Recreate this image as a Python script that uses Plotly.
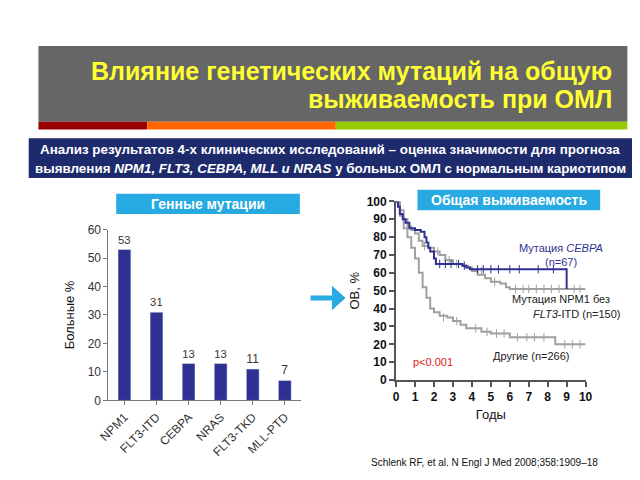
import plotly.graph_objects as go

# Bar chart data
genes = ["NPM1", "FLT3-ITD", "CEBPA", "NRAS", "FLT3-TKD", "MLL-PTD"]
patients_pct = [53, 31, 13, 13, 11, 7]

# Kaplan-Meier curves (years, OS %)
cebpa_t = [0, 0.1, 0.2, 0.35, 0.5, 0.7, 1.0, 1.3, 1.5, 1.6, 1.7, 1.8, 2.0, 2.1, 3.5, 3.7, 3.9, 9.0, 9.0]
cebpa_os = [100, 97, 93, 90, 88, 85, 84, 83, 80, 77, 74, 72, 68, 65, 64, 63, 62, 62, 51]
cebpa_cens_t = [2.3, 2.6, 2.9, 3.3, 3.6, 4.3, 4.6, 5.0, 5.4, 6.0, 6.5, 7.5, 8.3]
cebpa_cens_os = [65, 65, 65, 65, 64, 62, 62, 62, 62, 62, 62, 62, 62]

npm1_t = [0, 0.2, 0.4, 0.6, 0.8, 1.0, 1.2, 1.4, 1.7, 2.0, 2.3, 2.6, 3.0, 3.5, 3.8, 4.0, 4.3, 4.7, 5.0, 5.5, 5.8, 6.0, 10]
npm1_os = [100, 95, 90, 86, 84, 82, 78, 75, 74, 72, 70, 67, 65, 64, 63, 61, 59, 57, 55, 54, 52, 51, 51]
npm1_cens_t = [1.5, 2.2, 2.8, 3.2, 4.5, 5.2, 6.3, 6.7, 7.0, 7.4, 7.8, 8.2, 8.6, 9.4, 9.7]
npm1_cens_os = [75, 72, 67, 65, 61, 55, 51, 51, 51, 51, 51, 51, 51, 51, 51]

other_t = [0, 0.2, 0.4, 0.6, 0.8, 1.0, 1.2, 1.4, 1.6, 1.8, 2.0, 2.3, 2.7, 3.0, 3.4, 3.7, 4.5, 5.0, 6.0, 8.4, 8.4, 10]
other_os = [100, 92, 85, 80, 74, 68, 60, 52, 46, 40, 38, 36, 35, 33, 31, 29, 27, 26, 24, 24, 20, 20]
other_cens_t = [2.5, 3.2, 4.2, 4.8, 5.3, 5.7, 6.4, 6.9, 7.3, 7.8, 8.9, 9.3, 9.7]
other_cens_os = [35, 33, 29, 27, 26, 26, 24, 24, 24, 24, 20, 20, 20]

W, H = 640, 480
def px(x):
    return x / W
def py(y):
    return 1 - y / H

NAVY = "#2e3192"
GREY = "#a0a0a0"
CYAN = "#27aae1"
FONT = "Liberation Sans"

fig = go.Figure()

fig.add_trace(go.Bar(x=genes, y=patients_pct, marker_color=NAVY, width=0.4,
                     text=patients_pct, textposition="outside",
                     textfont=dict(size=12, color="#333333"),
                     cliponaxis=False, xaxis="x", yaxis="y", showlegend=False))

curves = [(npm1_t, npm1_os, npm1_cens_t, npm1_cens_os, GREY),
          (other_t, other_os, other_cens_t, other_cens_os, GREY),
          (cebpa_t, cebpa_os, cebpa_cens_t, cebpa_cens_os, NAVY)]
for t, s, ct, cs, col in curves:
    fig.add_trace(go.Scatter(x=t, y=s, mode="lines", line=dict(color=col, width=2, shape="hv"),
                             xaxis="x2", yaxis="y2", showlegend=False))
    fig.add_trace(go.Scatter(x=ct, y=cs, mode="markers",
                             marker=dict(symbol="line-ns-open", size=6, color=col,
                                         line=dict(color=col, width=1)),
                             xaxis="x2", yaxis="y2", showlegend=False))

bold_tick = dict(size=12, color="#111111", weight="bold")
fig.update_layout(
    width=W, height=H, margin=dict(l=0, r=0, t=0, b=0),
    paper_bgcolor="white", plot_bgcolor="white",
    font=dict(family=FONT, color="#222222"),
    xaxis=dict(domain=[px(92), px(290)], range=[-0.5, 5.5], showline=True, linecolor="#777777",
               ticks="outside", ticklen=4, tickcolor="#777777", tickangle=-45,
               tickfont=dict(size=12, color="#333333"), anchor="y"),
    yaxis=dict(domain=[py(397), py(221)], range=[0, 60], dtick=10, showgrid=False,
               showline=True, linecolor="#777777", ticks="outside", ticklen=4, tickcolor="#777777",
               tickfont=dict(size=12, color="#333333"), anchor="x", zeroline=False,
               title=dict(text="Больные %", font=dict(size=13, color="#111111"), standoff=10)),
    xaxis2=dict(domain=[px(388), px(583)], range=[0, 10], dtick=1, showgrid=False, zeroline=False,
                showline=True, linecolor="#555555", linewidth=2, ticks="outside", ticklen=5,
                tickcolor="#555555", tickwidth=2, anchor="y2", tickfont=bold_tick,
                title=dict(text="Годы", font=dict(size=13, color="#111111"), standoff=6)),
    yaxis2=dict(domain=[py(376), py(192)], range=[0, 100], dtick=10, showgrid=False, zeroline=False,
                showline=True, linecolor="#555555", linewidth=2, ticks="outside", ticklen=5,
                tickcolor="#555555", tickwidth=2, anchor="x2", tickfont=bold_tick,
                title=dict(text="ОВ, %", font=dict(size=13, color="#111111"), standoff=4)),
)

shapes = [
    dict(type="rect", x0=px(20), x1=px(626), y0=py(110), y1=py(32), fillcolor="#666666", line_width=0),
    dict(type="rect", x0=px(20), x1=px(132), y0=py(118), y1=py(110), fillcolor="#990000", line_width=0),
    dict(type="rect", x0=px(132), x1=px(326), y0=py(118), y1=py(110), fillcolor="#ff6600", line_width=0),
    dict(type="rect", x0=px(326), x1=px(626), y0=py(118), y1=py(110), fillcolor="#99cc00", line_width=0),
    dict(type="rect", x0=px(10), x1=px(631), y0=py(168), y1=py(127), fillcolor="#1d2a6b", line_width=0),
    dict(type="rect", x0=px(100), x1=px(289), y0=py(205), y1=py(184), fillcolor=CYAN, line_width=0),
    dict(type="rect", x0=px(410), x1=px(598), y0=py(201), y1=py(180), fillcolor=CYAN, line_width=0),
    dict(type="path", fillcolor=CYAN, line_width=0,
         path=f"M {px(300)} {py(289)} L {px(322)} {py(289)} L {px(322)} {py(279)} L {px(336)} {py(291.5)} "
              f"L {px(322)} {py(304)} L {px(322)} {py(294)} L {px(300)} {py(294)} Z"),
]
for s in shapes:
    s.update(xref="paper", yref="paper", layer="below")
    fig.add_shape(s)

def note(x, y, text, size=11, color="#222222", xanchor="center"):
    fig.add_annotation(x=px(x), y=py(y), xref="paper", yref="paper", text=text, showarrow=False,
                       xanchor=xanchor, yanchor="middle",
                       font=dict(size=size, color=color, family=FONT))

note(612, 58, "<b>Влияние генетических мутаций на общую</b>", size=25, color="#ffff33", xanchor="right")
note(612, 87, "<b>выживаемость при ОМЛ</b>", size=25, color="#ffff33", xanchor="right")
note(320, 139, "<b>Анализ результатов 4-х клинических исследований – оценка значимости для прогноза</b>",
     size=13.4, color="white")
note(320, 158, "<b>выявления <i>NPM1, FLT3, CEBPA, MLL и NRAS</i> у больных ОМЛ с нормальным кариотипом</b>",
     size=13.4, color="white")
note(194.5, 194.5, "<b>Генные мутации</b>", size=14, color="white")
note(504, 190.5, "<b>Общая выживаемость</b>", size=14, color="white")
note(558, 240, "Мутация <i>CEBPA</i>", size=11, color=NAVY)
note(558, 254, "(n=67)", size=11, color=NAVY)
note(505, 293, "Мутация NPM1 без", size=11, xanchor="left")
note(621, 308, "<i>FLT3</i>-ITD (n=150)", size=11, xanchor="right")
note(486, 351, "Другие (n=266)", size=11, xanchor="left")
note(403, 357, "p<0.001", size=11, color="#e02020", xanchor="left")
note(360, 461, "Schlenk RF, et al. N Engl J Med 2008;358:1909–18", size=10, color="#111111", xanchor="left")

fig.write_html("out.html")
